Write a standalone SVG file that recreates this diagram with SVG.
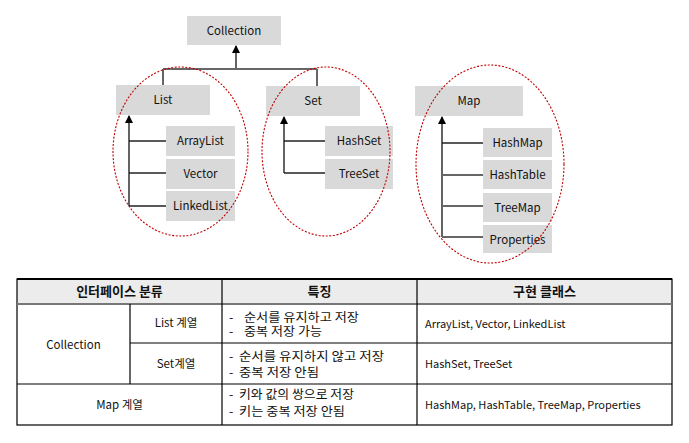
<svg xmlns="http://www.w3.org/2000/svg" width="689" height="443" viewBox="0 0 689 443">
<style>
.box{fill:#d9d9d9;}
.t{font-family:"Noto Sans CJK KR","Liberation Sans",sans-serif;font-size:11.5px;fill:#111;}
.k{font-size:12.5px;}
.l{font-size:11px;}
.c{text-anchor:middle;}
.b{font-weight:bold;font-size:13px;}
.ell{fill:none;stroke:#c00000;stroke-width:1.1;stroke-dasharray:2 1.6;}
.ln{stroke:#222;stroke-width:1.4;fill:none;}
.gl{stroke:#666;stroke-width:2;fill:none;}
.tb{stroke:#000;stroke-width:1.2;fill:none;}
</style>
<defs>
<marker id="ah" markerWidth="8" markerHeight="8" refX="7" refY="4" orient="auto" markerUnits="userSpaceOnUse">
<path d="M0,0 L8,4 L0,8 Z" fill="#000"/>
</marker>
</defs>
<rect width="689" height="443" fill="#fff"/>
<g id="connectors">
<line class="ln" x1="236" y1="69" x2="236" y2="46" marker-end="url(#ah)"/>
<line class="gl" x1="163" y1="69" x2="317" y2="69"/>
<line class="gl" x1="163" y1="69" x2="163" y2="85"/>
<line class="gl" x1="317" y1="69" x2="317" y2="86"/>
<line class="ln" x1="129" y1="206" x2="129" y2="116" marker-end="url(#ah)"/>
<line class="ln" x1="129" y1="141" x2="166" y2="141"/>
<line class="ln" x1="129" y1="173" x2="166" y2="173"/>
<line class="ln" x1="129" y1="206" x2="166" y2="206"/>
<line class="ln" x1="284" y1="173" x2="284" y2="117" marker-end="url(#ah)"/>
<line class="ln" x1="284" y1="141" x2="325" y2="141"/>
<line class="ln" x1="284" y1="173" x2="325" y2="173"/>
<line class="ln" x1="442" y1="237" x2="442" y2="117" marker-end="url(#ah)"/>
<line class="ln" x1="442" y1="143" x2="483" y2="143"/>
<line class="gl" x1="442" y1="175" x2="483" y2="175"/>
<line class="gl" x1="442" y1="206" x2="483" y2="206"/>
<line class="gl" x1="442" y1="237" x2="483" y2="237"/>
</g>
<g id="collection"><rect class="box" x="187" y="16" width="94" height="29"/><text class="t c" x="234" y="35" font-size="12.5">Collection</text></g>
<g id="list"><rect class="box" x="116" y="85" width="94" height="30"/><text class="t c" x="163" y="104">List</text></g>
<g id="set"><rect class="box" x="266" y="86" width="94" height="30"/><text class="t c" x="313" y="105">Set</text></g>
<g id="map"><rect class="box" x="415" y="86" width="108" height="30"/><text class="t c" x="469" y="105">Map</text></g>
<g id="arraylist"><rect class="box" x="166" y="126" width="69" height="30"/><text class="t c" x="200.5" y="145">ArrayList</text></g>
<g id="vector"><rect class="box" x="166" y="159" width="69" height="30"/><text class="t c" x="200.5" y="178">Vector</text></g>
<g id="linkedlist"><rect class="box" x="166" y="191" width="69" height="30"/><text class="t c" x="200.5" y="210">LinkedList</text></g>
<g id="hashset"><rect class="box" x="325" y="126" width="68" height="30"/><text class="t c" x="359" y="145">HashSet</text></g>
<g id="treeset"><rect class="box" x="325" y="159" width="68" height="30"/><text class="t c" x="359" y="178">TreeSet</text></g>
<g id="hashmap"><rect class="box" x="483" y="128" width="69" height="29"/><text class="t c" x="517.5" y="147">HashMap</text></g>
<g id="hashtable"><rect class="box" x="483" y="160" width="69" height="29"/><text class="t c" x="517.5" y="179">HashTable</text></g>
<g id="treemap"><rect class="box" x="483" y="193" width="69" height="29"/><text class="t c" x="517.5" y="212">TreeMap</text></g>
<g id="properties"><rect class="box" x="483" y="225" width="69" height="28"/><text class="t c" x="517.5" y="244">Properties</text></g>
<g id="groups">
<ellipse class="ell" cx="180.5" cy="151.5" rx="67.5" ry="84.5"/>
<ellipse class="ell" cx="326" cy="151.5" rx="64" ry="84.5"/>
<ellipse class="ell" cx="490" cy="164" rx="74" ry="99"/>
</g>
<g id="table">
<rect x="17" y="279" width="655" height="25" fill="#ececec"/>
<rect class="tb" x="17" y="279" width="655" height="146"/>
<line x1="17" y1="279" x2="672" y2="279" stroke="#000" stroke-width="1.8"/>
<line x1="17" y1="304" x2="672" y2="304" stroke="#777" stroke-width="2"/>
<line class="tb" x1="130" y1="343" x2="672" y2="343"/>
<line class="tb" x1="17" y1="384" x2="672" y2="384"/>
<line class="tb" x1="130" y1="304" x2="130" y2="384"/>
<line class="tb" x1="222" y1="279" x2="222" y2="425"/>
<line class="tb" x1="417" y1="279" x2="417" y2="425"/>
<text class="t c b" x="119.5" y="296">인터페이스 분류</text>
<text class="t c b" x="319.5" y="296">특징</text>
<text class="t c b" x="544.5" y="296">구현 클래스</text>
<text class="t c" x="73.5" y="349" font-size="12">Collection</text>
<text class="t c" x="176" y="327" font-size="12">List 계열</text>
<text class="t c" x="176" y="368" font-size="12">Set계열</text>
<text class="t c" x="119.5" y="409" font-size="12">Map 계열</text>
<text class="t k" x="229" y="321.5">-</text>
<text class="t k" x="244" y="321.5" textLength="115" lengthAdjust="spacingAndGlyphs">순서를 유지하고 저장</text>
<text class="t k" x="229" y="335.5">-</text>
<text class="t k" x="244" y="335.5" textLength="78" lengthAdjust="spacingAndGlyphs">중복 저장 가능</text>
<text class="t k" x="229" y="360.5">-</text>
<text class="t k" x="239" y="360.5" textLength="145" lengthAdjust="spacingAndGlyphs">순서를 유지하지 않고 저장</text>
<text class="t k" x="229" y="376.5">-</text>
<text class="t k" x="239" y="376.5" textLength="80" lengthAdjust="spacingAndGlyphs">중복 저장 안됨</text>
<text class="t k" x="229" y="398.5">-</text>
<text class="t k" x="239" y="398.5" textLength="115" lengthAdjust="spacingAndGlyphs">키와 값의 쌍으로 저장</text>
<text class="t k" x="229" y="415.5">-</text>
<text class="t k" x="239" y="415.5" textLength="106" lengthAdjust="spacingAndGlyphs">키는 중복 저장 안됨</text>
<text class="t l" x="425" y="328">ArrayList, Vector, LinkedList</text>
<text class="t l" x="425" y="368">HashSet, TreeSet</text>
<text class="t l" x="425" y="409">HashMap, HashTable, TreeMap, Properties</text>
</g>
</svg>
